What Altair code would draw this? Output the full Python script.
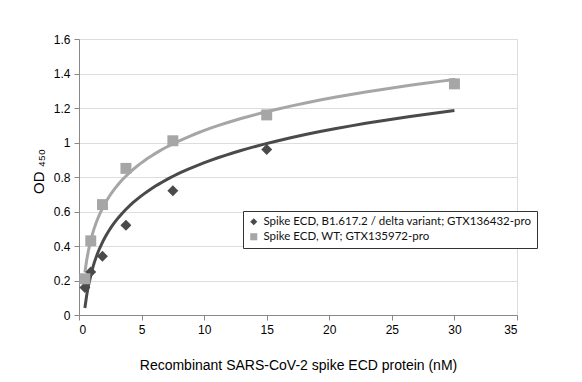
import altair as alt
import pandas as pd

conc = [0.47, 0.94, 1.875, 3.75, 7.5, 15, 30]
delta_od = [0.16, 0.25, 0.34, 0.52, 0.72, 0.96, 1.34]
wt_od = [0.21, 0.43, 0.64, 0.85, 1.01, 1.16, 1.34]
series_names = ["Spike ECD, B1.617.2 / delta variant; GTX136432-pro",
                "Spike ECD, WT; GTX135972-pro"]
series_colors = ["#4a4a4a", "#a6a6a6"]
series_shapes = ["diamond", "square"]
y_ticks = [0, 0.2, 0.4, 0.6, 0.8, 1.0, 1.2, 1.4, 1.6]
x_ticks = [0, 5, 10, 15, 20, 25, 30, 35]

rows = []
for x, y in zip(conc, delta_od):
    rows.append({"x": x, "y": y, "series": series_names[0], "order": 0})
for x, y in zip(conc, wt_od):
    rows.append({"x": x, "y": y, "series": series_names[1], "order": 1})
df = pd.DataFrame(rows)

FONT = "Lato"

xenc = alt.X("x:Q", scale=alt.Scale(domain=[0, 35], nice=False),
             axis=alt.Axis(values=x_ticks, grid=False, title="Recombinant SARS-CoV-2 spike ECD protein (nM)",
                           titleY=50, titleBaseline="middle", titleFontSize=14, titleFontWeight="normal",
                           labelFontSize=12, labelPadding=4, tickSize=5))
yenc = alt.Y("y:Q", scale=alt.Scale(domain=[0, 1.6], nice=False),
             axis=alt.Axis(values=y_ticks, format="~g", title="OD ₄₅₀", labelOverlap=False,
                           grid=True, titleX=-41, titleY=132, titleAngle=-90, titleAlign="center",
                           titleBaseline="middle", titleFontSize=15, titleFontWeight="normal",
                           labelFontSize=12, labelPadding=4, tickSize=5))

lines = alt.Chart(df).transform_regression(
    "x", "y", method="log", groupby=["series"], extent=[0.47, 30], params=False
).mark_line(strokeWidth=3).encode(
    x=xenc, y=yenc,
    stroke=alt.Stroke("series:N", scale=alt.Scale(domain=series_names, range=series_colors), legend=None),
)

points = alt.Chart(df).mark_point(filled=True, opacity=1, size=120).encode(
    x=xenc, y=yenc,
    color=alt.Color("series:N", scale=alt.Scale(domain=series_names, range=series_colors),
                    legend=alt.Legend(title=None, orient="none", legendX=164, legendY=172,
                                      strokeColor="#333333", fillColor="white", padding=5,
                                      labelFontSize=11.5, symbolSize=50, rowPadding=2, labelLimit=0,
                                      labelColor="#111111", labelFont=FONT)),
    shape=alt.Shape("series:N", scale=alt.Scale(domain=series_names, range=series_shapes)),
    order=alt.Order("order:Q"),
)

chart = alt.layer(lines, points).resolve_scale(stroke="independent").properties(
    width=438, height=276,
    autosize=alt.AutoSizeParams(type="none"),
    padding={"left": 71, "top": 31, "right": 50, "bottom": 60},
).configure_view(stroke=None).configure_axis(
    labelFont=FONT, titleFont=FONT, labelColor="#222222", titleColor="#111111",
    domainColor="#8c8c8c", tickColor="#8c8c8c", gridColor="#bfbfbf",
).configure(background="white")

chart.save("out.html", embed_options={"renderer": "svg", "actions": False})
